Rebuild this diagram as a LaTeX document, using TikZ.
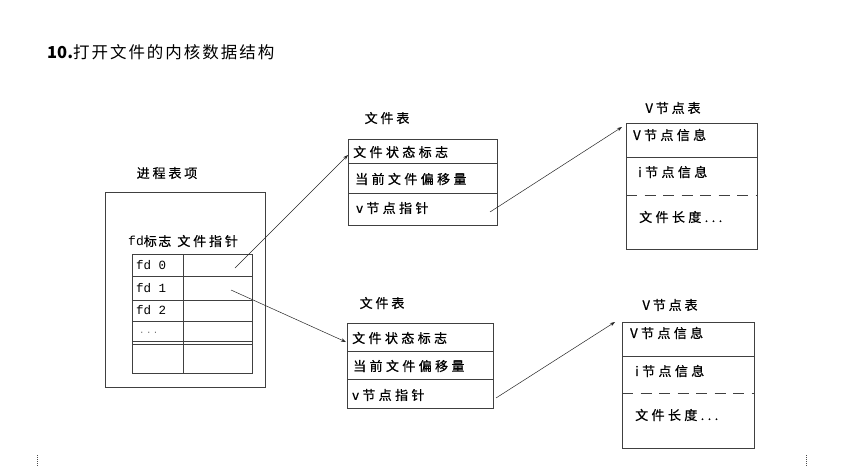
\documentclass[tikz,border=0pt]{standalone}
\usepackage{fontspec}
\setmainfont{Noto Sans CJK SC}
\newfontfamily\monofd{Liberation Mono}
\usetikzlibrary{arrows.meta}
\begin{document}
\begin{tikzpicture}[x=1pt,y=-1pt,
  frame/.style={draw=black!75, line width=0.8pt, inner sep=0pt, anchor=north west},
  rowline/.style={draw=black!75, line width=0.8pt},
  lbl/.style={font=\fontsize{13}{15}\selectfont\addfontfeature{LetterSpace=26,FakeBold=0.7}, inner sep=0pt, anchor=west},
  captext/.style={font=\fontsize{13}{15}\selectfont\addfontfeature{LetterSpace=22,FakeBold=0.7}, inner sep=0pt},
  fdl/.style={font=\fontsize{12.5}{14}\selectfont\monofd, inner sep=0pt, anchor=west},
  pointer/.style={-{Stealth[length=5pt,width=3.5pt]}, line width=0.5pt, draw=black!85}]
\useasboundingbox (0,0) rectangle (843,466);
\fill[white] (0,0) rectangle (843,466);

% title
\node[font=\fontsize{16.5}{18}\selectfont, inner sep=0pt, anchor=west] (title) at (47,52) {\textbf{10.}\addfontfeature{LetterSpace=12}打开文件的内核数据结构};

% process table entry
\node[captext] (proccap) at (167,173) {进程表项};
\node[frame, minimum width=160pt, minimum height=195pt] (proc) at (105,192) {};
\node[font=\fontsize{13}{15}\selectfont\addfontfeature{FakeBold=0.7}, inner sep=0pt, anchor=west] (hdr) at (128,241) {{\monofd fd}\addfontfeature{LetterSpace=12}标志\hspace{6pt}\addfontfeature{LetterSpace=22}文件指针};
\node[frame, minimum width=120pt, minimum height=119pt] (fdtab) at (132,254) {};
\draw[rowline] (183,254) -- (183,373);
\draw[rowline] (132,276) -- (252,276);
\draw[rowline] (132,300) -- (252,300);
\draw[rowline] (132,321) -- (252,321);
\draw[rowline] (132,341) -- (252,341);
\draw[rowline] (132,344) -- (252,344);
\node[fdl] (fd0) at (136,265) {fd 0};
\node[fdl] (fd1) at (136,288) {fd 1};
\node[fdl] (fd2) at (136,310) {fd 2};
\node[fdl, font=\fontsize{9}{10}\selectfont\monofd, text=black!55] (fddots) at (139,333) {.\,.\,.};
\coordinate (p0) at (235,268);
\coordinate (p1) at (231,290);

% file table 1
\node[captext] (ft1cap) at (387,118) {文件表};
\node[frame, minimum width=149pt, minimum height=86pt] (ft1) at (348,139) {};
\draw[rowline] (348,163) -- (497,163);
\draw[rowline] (348,193) -- (497,193);
\node[lbl] (ft1a) at (353,152) {文件状态标志};
\node[lbl] (ft1b) at (355,179) {当前文件偏移量};
\node[lbl] (ft1c) at (356,208) {v节点指针};
\coordinate (q1) at (490,212);

% file table 2
\node[captext] (ft2cap) at (382,303) {文件表};
\node[frame, minimum width=146pt, minimum height=85pt] (ft2) at (347,323) {};
\draw[rowline] (347,351) -- (493,351);
\draw[rowline] (347,379) -- (493,379);
\node[lbl] (ft2a) at (352,338) {文件状态标志};
\node[lbl] (ft2b) at (353,366) {当前文件偏移量};
\node[lbl] (ft2c) at (352,395) {v节点指针};
\coordinate (q2) at (496,398);

% v-node table 1
\node[captext] (vt1cap) at (673,108) {V节点表};
\node[frame, minimum width=131pt, minimum height=126pt] (vt1) at (626,123) {};
\draw[rowline] (626,157) -- (757,157);
\draw[rowline, dash pattern=on 11pt off 7.5pt] (626,195) -- (757,195);
\node[lbl] (vt1a) at (633,135) {V节点信息};
\node[lbl] (vt1b) at (638,172) {i节点信息};
\node[lbl] (vt1c) at (639,217) {文件长度...};

% v-node table 2
\node[captext] (vt2cap) at (670,305) {V节点表};
\node[frame, minimum width=132pt, minimum height=126pt] (vt2) at (622,322) {};
\draw[rowline] (622,356) -- (754,356);
\draw[rowline, dash pattern=on 11pt off 7.5pt] (622,393) -- (754,393);
\node[lbl] (vt2a) at (630,333) {V节点信息};
\node[lbl] (vt2b) at (635,371) {i节点信息};
\node[lbl] (vt2c) at (635,415) {文件长度...};

% pointers
\draw[pointer] (p0) -- ([xshift=-5pt,yshift=-3pt]ft1a.west);
\draw[pointer] (p1) -- ([xshift=-6pt,yshift=-4pt]ft2a.west);
\draw[pointer] (q1) -- ([xshift=-11pt,yshift=8pt]vt1a.west);
\draw[pointer] (q2) -- ([xshift=-15pt,yshift=11pt]vt2a.west);

% page corner marks
\draw[black!70, line width=0.6pt, dash pattern=on 1pt off 1pt] (37,455) -- (37,466);
\draw[black!70, line width=0.6pt, dash pattern=on 1pt off 1pt] (806,455) -- (806,466);
\end{tikzpicture}
\end{document}
